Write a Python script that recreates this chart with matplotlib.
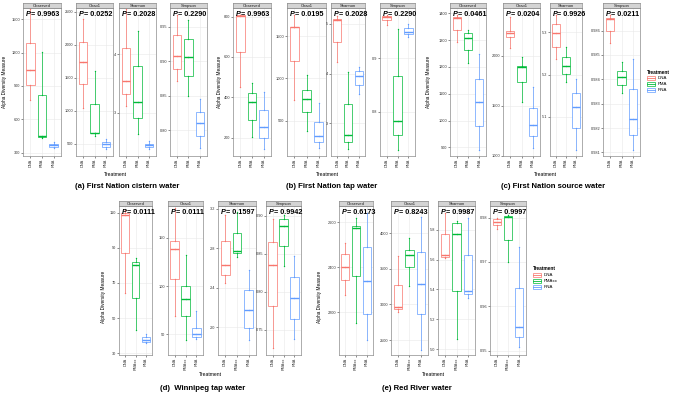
import matplotlib

matplotlib.use("Agg")
import matplotlib.pyplot as plt
from matplotlib.patches import Rectangle

plt.rcParams["font.family"] = ["Liberation Sans", "DejaVu Sans"]

W, H = 675, 395
COLORS = ["#F8766D", "#00BA38", "#619CFF"]
METRICS = ["Observed", "Chao1", "Shannon", "Simpson"]
LABELS_ABC = ["DNA", "PMA", "RNA"]
LABELS_DE = ["DNA", "PMAxx", "RNA"]

# five-number summaries per treatment: whisker low, q1, median, q3, whisker high
A_OBSERVED = [[773, 909, 1042, 1284, 1595], [436, 442, 451, 820, 1201], [339, 355, 368, 380, 398]]
A_CHAO1 = [[1040, 1409, 1747, 2050, 2389], [621, 662, 672, 1111, 1606], [419, 460, 500, 535, 570]]
A_SHANNON = [[3.11, 3.32, 3.54, 4.10, 4.77], [2.64, 2.91, 3.19, 3.79, 4.40], [2.38, 2.42, 2.45, 2.47, 2.52]]
A_SIMPSON = [[0.871, 0.889, 0.908, 0.938, 0.967], [0.850, 0.879, 0.906, 0.932, 0.960], [0.774, 0.792, 0.810, 0.827, 0.846]]

B_OBSERVED = [[450, 626, 803, 806, 808], [202, 288, 375, 420, 469], [142, 197, 251, 337, 428]]
B_CHAO1 = [[744, 1205, 1602, 1610, 1748], [378, 598, 760, 862, 1039], [173, 252, 319, 488, 705]]
B_SHANNON = [[4.24, 4.64, 5.07, 5.09, 5.15], [2.48, 2.62, 2.77, 3.38, 4.04], [3.58, 3.77, 3.96, 4.05, 4.14]]
B_SIMPSON = [[0.962, 0.971, 0.977, 0.979, 0.981], [0.729, 0.756, 0.782, 0.867, 0.954], [0.939, 0.946, 0.950, 0.956, 0.964]]

C_OBSERVED = [[1294, 1338, 1384, 1388, 1394], [1216, 1263, 1309, 1325, 1338], [890, 980, 1068, 1157, 1248]]
C_CHAO1 = [[2073, 2190, 2223, 2250, 2390], [1540, 1740, 1883, 1900, 1983], [1073, 1200, 1307, 1473, 1683]]
C_SHANNON = [[5.236, 5.266, 5.298, 5.320, 5.341], [5.183, 5.201, 5.220, 5.242, 5.266], [5.021, 5.073, 5.124, 5.157, 5.189]]
C_SIMPSON = [[0.98551, 0.98599, 0.98647, 0.98651, 0.98664], [0.98342, 0.98377, 0.98408, 0.98436, 0.98473],
             [0.98110, 0.98173, 0.98237, 0.98359, 0.98482]]

D_OBSERVED = [[64.5, 87.3, 108.7, 109.6, 111.5], [43.3, 61.3, 80.2, 82.1, 84.0], [35.7, 36.6, 37.6, 39.5, 41.0]]
D_CHAO1 = [[69.0, 107.2, 137.9, 146.9, 180.3], [44.1, 69.3, 86.6, 100.0, 132.1], [44.8, 47.6, 50.0, 56.2, 74.5]]
D_SHANNON = [[2.45, 2.53, 2.63, 2.88, 3.14], [2.71, 2.75, 2.77, 2.96, 3.17], [1.87, 1.99, 2.18, 2.38, 2.58]]
D_SIMPSON = [[0.726, 0.781, 0.836, 0.865, 0.896], [0.834, 0.861, 0.887, 0.896, 0.901], [0.738, 0.764, 0.792, 0.820, 0.847]]

E_OBSERVED = [[2277, 2344, 2403, 2458, 2507], [2151, 2363, 2573, 2585, 2618], [2077, 2191, 2341, 2489, 2640]]
E_CHAO1 = [[2899, 2936, 2960, 3274, 3686], [3260, 3531, 3695, 3766, 3930], [2360, 2861, 3283, 3733, 4225]]
E_SHANNON = [[5.61, 5.62, 5.63, 5.77, 5.91], [5.065, 5.392, 5.773, 5.845, 5.856], [5.345, 5.367, 5.392, 5.632, 5.878]]
E_SIMPSON = [[0.9775, 0.9784, 0.9790, 0.9796, 0.9798], [0.9700, 0.9750, 0.9801, 0.9803, 0.9805],
             [0.9507, 0.9530, 0.9554, 0.9642, 0.9734]]

A_PVALUES = ["0.9963", "0.0252", "0.2028", "0.2290"]
B_PVALUES = ["0.9963", "0.0195", "0.2028", "0.2290"]
C_PVALUES = ["0.0461", "0.0204", "0.9926", "0.0211"]
D_PVALUES = ["0.0111", "0.0111", "0.1597", "0.9942"]
E_PVALUES = ["0.6173", "0.8243", "0.9987", "0.9997"]

# y axis setup per panel: (ticks, decimals, ylim)
A_AXES = [([300, 600, 900, 1200, 1500], 0, (271, 1600)), ([500, 1000, 1500, 2000, 2500], 0, (318, 2560)),
          ([3, 4], 0, (2.26, 4.79)), ([0.80, 0.85, 0.90, 0.95], 2, (0.763, 0.977))]
B_AXES = [([200, 400, 600, 800], 0, (109, 843)), ([500, 1000, 1500], 0, (83, 1831)),
          ([3, 4, 5], 0, (2.34, 5.32)), ([0.8, 0.9], 1, (0.717, 0.994))]
C_AXES = [([900, 1000, 1100, 1200, 1300, 1400], 0, (868, 1420)), ([1000, 1500, 2000], 0, (997, 2477)),
          ([5.1, 5.2, 5.3], 1, (5.007, 5.358)),
          ([0.981, 0.982, 0.983, 0.984, 0.985, 0.986], 3, (0.98085, 0.98693))]
D_AXES = [([30, 50, 70, 90, 110], 0, (29, 113.8)), ([50, 100, 150], 0, (28.6, 182.8)),
          ([2.0, 2.4, 2.8, 3.2], 1, (1.72, 3.23)), ([0.75, 0.80, 0.85, 0.90], 2, (0.717, 0.913))]
E_AXES = [([2200, 2400, 2600], 0, (2010, 2673)), ([2500, 3000, 3500, 4000], 0, (2290, 4384)),
          ([5.0, 5.2, 5.4, 5.6, 5.8], 1, (4.96, 5.96)), ([0.95, 0.96, 0.97, 0.98], 2, (0.9490, 0.9826))]

fig = plt.figure(figsize=(W / 100, H / 100), dpi=100)


def px_axes(x0, x1, y0, y1):
    return fig.add_axes([x0 / W, 1 - y1 / H, (x1 - x0) / W, (y1 - y0) / H])


def draw_panel(x0, x1, y0, y1, metric, stats, axis_cfg, pval, xlabels):
    ticks, decimals, ylim = axis_cfg
    ax = px_axes(x0, x1, y0, y1)
    ax.set_facecolor("white")
    boxes = [dict(whislo=s[0], q1=s[1], med=s[2], q3=s[3], whishi=s[4]) for s in stats]
    art = ax.bxp(boxes, positions=[1, 2, 3], widths=0.75, showcaps=False, showfliers=False,
                 patch_artist=True)
    for i, c in enumerate(COLORS):
        art["boxes"][i].set(facecolor="white", edgecolor=c, linewidth=0.5, zorder=2)
        art["medians"][i].set(color=c, linewidth=1.0, zorder=3)
        for wk in art["whiskers"][2 * i:2 * i + 2]:
            wk.set(color=c, linewidth=0.5)
        ax.plot([i + 1] * len(stats[i]), stats[i], "o", ms=1.0, color=c, mew=0, zorder=4)
    ax.set_xlim(0.4, 3.6)
    ax.set_ylim(*ylim)
    ax.set_yticks(ticks, [f"{t:.{decimals}f}" for t in ticks])
    ax.set_xticks([1, 2, 3], xlabels, rotation=90)
    ax.tick_params(labelsize=2.8, length=1.2, width=0.4, pad=0.8, colors="#333333")
    ax.grid(True, color="#E8E8E8", linewidth=0.4, zorder=0)
    ax.set_axisbelow(True)
    for sp in ax.spines.values():
        sp.set_edgecolor("#8C8C8C")
        sp.set_linewidth(0.5)
    t = ax.text(0.08, 0.955, "P", transform=ax.transAxes, fontsize=5.2, fontweight="bold",
                style="italic", va="center", ha="left", zorder=5)
    ax.annotate(f"= {pval}", xy=(1, 0.5), xycoords=t, va="center", ha="left",
                fontsize=5.2, fontweight="bold", zorder=5)
    strip = px_axes(x0, x1, y0 - 5, y0)
    strip.set_facecolor("#D4D4D4")
    strip.set_xticks([])
    strip.set_yticks([])
    for sp in strip.spines.values():
        sp.set_edgecolor("#8C8C8C")
        sp.set_linewidth(0.5)
    strip.text(0.5, 0.45, metric, ha="center", va="center", fontsize=3.0, color="#1A1A1A")


def draw_group(xs, y0, y1, stats_list, axes_list, pvals, xlabels):
    for (x0, x1), metric, stats, cfg, p in zip(xs, METRICS, stats_list, axes_list, pvals):
        draw_panel(x0, x1, y0, y1, metric, stats, cfg, p, xlabels)


def draw_legend(x, y, labels):
    fig.text(x / W, 1 - y / H, "Treatment", fontsize=3.4, fontweight="bold", va="center")
    for i, (lab, c) in enumerate(zip(labels, COLORS)):
        yy = y + 6 + 6 * i
        fig.add_artist(Rectangle((x / W, 1 - (yy + 2) / H), 8 / W, 4 / H, transform=fig.transFigure,
                                 facecolor="white", edgecolor=c, linewidth=0.5))
        fig.add_artist(plt.Line2D([x / W, (x + 8) / W], [1 - yy / H] * 2, transform=fig.transFigure,
                                  color=c, linewidth=0.6))
        fig.text((x + 11) / W, 1 - yy / H, lab, fontsize=3.2, va="center")


top = (8, 156)
bottom = (206, 355)

draw_group([(23, 61), (76, 113), (119, 156), (170, 207)], *top,
           [A_OBSERVED, A_CHAO1, A_SHANNON, A_SIMPSON], A_AXES, A_PVALUES, LABELS_ABC)
draw_group([(233, 271), (287, 326), (331, 365), (380, 415)], *top,
           [B_OBSERVED, B_CHAO1, B_SHANNON, B_SIMPSON], B_AXES, B_PVALUES, LABELS_ABC)
draw_group([(450, 486), (503, 540), (550, 582), (603, 640)], *top,
           [C_OBSERVED, C_CHAO1, C_SHANNON, C_SIMPSON], C_AXES, C_PVALUES, LABELS_ABC)
draw_group([(119, 152), (168, 203), (218, 256), (266, 301)], *bottom,
           [D_OBSERVED, D_CHAO1, D_SHANNON, D_SIMPSON], D_AXES, D_PVALUES, LABELS_DE)
draw_group([(339, 373), (391, 428), (438, 475), (490, 526)], *bottom,
           [E_OBSERVED, E_CHAO1, E_SHANNON, E_SIMPSON], E_AXES, E_PVALUES, LABELS_DE)

for x, y in [(5, 82), (219, 82), (428, 82), (103, 297), (320, 297)]:
    fig.text(x / W, 1 - y / H, "Alpha Diversity Measure", rotation=90, fontsize=3.4,
             ha="center", va="center")
for x, y in [(115, 175), (327, 175), (545, 175), (210, 375), (433, 375)]:
    fig.text(x / W, 1 - y / H, "Treatment", fontsize=3.6, ha="center", va="center")

captions = [("(a) First Nation cistern water", 127, 186), ("(b) First Nation tap water", 332, 186),
            ("(c) First Nation source water", 553, 186), ("(d)  Winnipeg tap water", 203, 388),
            ("(e) Red River water", 417, 388)]
for txt, x, y in captions:
    fig.text(x / W, 1 - y / H, txt, fontsize=5.6, fontweight="bold", ha="center", va="center")

draw_legend(647, 72, LABELS_ABC)
draw_legend(533, 269, LABELS_DE)

fig.savefig("out.png", dpi=100, facecolor="white")
